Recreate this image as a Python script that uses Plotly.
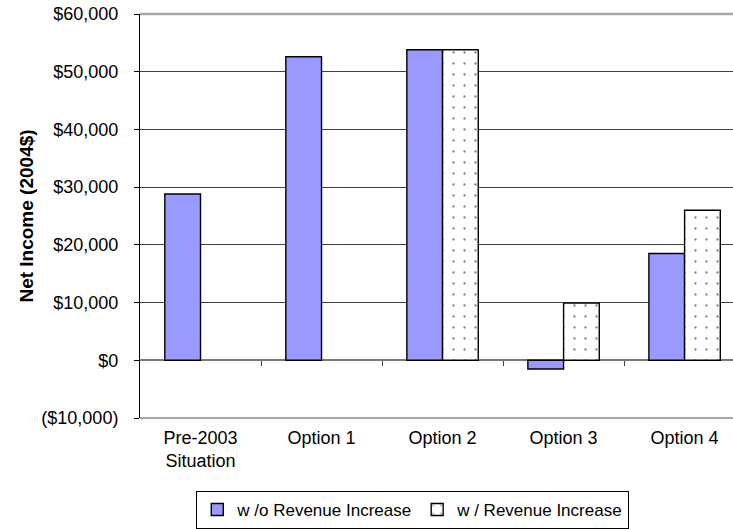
import plotly.graph_objects as go

# Net income by management option, with and without a revenue increase
categories = ["Pre-2003<br>Situation", "Option 1", "Option 2", "Option 3", "Option 4"]
without_increase = [28800, 52600, 53800, -1500, 18500]
with_increase = [None, None, 53800, 9900, 26000]

y_ticks = [-10000, 0, 10000, 20000, 30000, 40000, 50000, 60000]
y_tick_text = ["($10,000)", "$0", "$10,000", "$20,000", "$30,000", "$40,000", "$50,000", "$60,000"]

FONT = "Liberation Sans, Arial, sans-serif"
Y_MIN, Y_MAX = -10000, 60000
X_RANGE = [-0.5, 4.4]

fig = go.Figure()
fig.add_trace(go.Bar(
    x=categories, y=without_increase, name="w /o Revenue Increase",
    marker=dict(color="#9999FF", line=dict(color="#000000", width=1.4)),
))
fig.add_trace(go.Bar(
    x=categories, y=with_increase, name="w / Revenue Increase",
    marker=dict(
        color="#FFFFFF",
        line=dict(color="#000000", width=1.4),
        pattern=dict(shape=".", fgcolor="#000000", bgcolor="#FFFFFF",
                     size=11, solidity=0.035, fillmode="overlay"),
    ),
))
# carrier trace so the category-divider axis at $0 gets drawn
fig.add_trace(go.Scatter(x=[None], y=[None], xaxis="x2", yaxis="y",
                         showlegend=False, hoverinfo="skip"))

fig.update_layout(
    width=733, height=529,
    margin=dict(l=140, r=0, t=14, b=110),
    paper_bgcolor="white", plot_bgcolor="white",
    barmode="group", bargap=0.41, bargroupgap=0,
    font=dict(family=FONT, size=18, color="#000000"),
    showlegend=True,
    legend=dict(
        orientation="h", x=0.46, xanchor="center", y=-0.18, yanchor="top",
        bordercolor="#000000", borderwidth=1, font=dict(size=17),
        itemwidth=30, tracegroupgap=0,
    ),
    xaxis=dict(
        type="category", range=X_RANGE, showgrid=False, showline=False,
        ticks="", ticklabelstandoff=7, tickfont=dict(size=18),
    ),
    xaxis2=dict(
        overlaying="x", anchor="free",
        position=(0 - Y_MIN) / (Y_MAX - Y_MIN),
        range=X_RANGE, tickvals=[0.5, 1.5, 2.5, 3.5],
        ticks="outside", ticklen=5, tickwidth=1, tickcolor="#404040",
        showticklabels=False, showgrid=False, showline=False, zeroline=False,
    ),
    yaxis=dict(
        range=[Y_MIN, Y_MAX], tickvals=y_ticks, ticktext=y_tick_text,
        showgrid=True, gridcolor="#404040", gridwidth=1,
        zeroline=True, zerolinecolor="#7a7a7a", zerolinewidth=1.5,
        showline=True, linecolor="#000000", linewidth=1,
        ticks="outside", ticklen=5, tickcolor="#000000",
        ticklabelstandoff=12, tickfont=dict(size=18),
        title=dict(text="<b>Net Income (2004$)</b>", standoff=2,
                   font=dict(size=19)),
    ),
    shapes=[
        # gray plot-area borders at top and bottom
        dict(type="line", xref="paper", yref="y domain", x0=0, x1=1, y0=1, y1=1,
             line=dict(color="#a6a6a6", width=2.5), layer="above"),
        dict(type="line", xref="paper", yref="y domain", x0=0, x1=1, y0=0, y1=0,
             line=dict(color="#a6a6a6", width=2), layer="above"),
    ],
)

fig.write_html("out.html")
